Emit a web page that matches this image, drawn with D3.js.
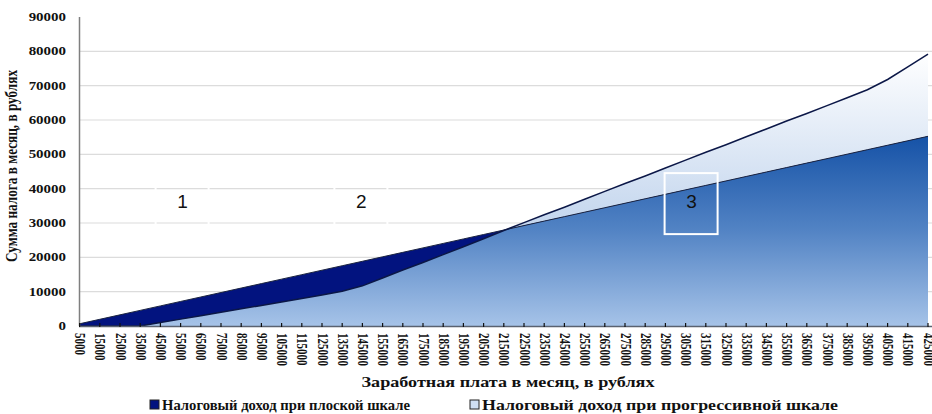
<!DOCTYPE html>
<html><head><meta charset="utf-8">
<script src="https://cdn.jsdelivr.net/npm/d3@7"></script>
<style>html,body{margin:0;padding:0;background:#fff;overflow:hidden}</style>
</head><body>
<svg id="c" width="932" height="414"></svg>
<script>
const categories = [5000,15000,25000,35000,45000,55000,65000,75000,85000,95000,105000,115000,125000,135000,145000,155000,165000,175000,185000,195000,205000,215000,225000,235000,245000,255000,265000,275000,285000,295000,305000,315000,325000,335000,345000,355000,365000,375000,385000,395000,405000,415000,425000];
const flatTax = [650,1950,3250,4550,5850,7150,8450,9750,11050,12350,13650,14950,16250,17550,18850,20150,21450,22750,24050,25350,26650,27950,29250,30550,31850,33150,34450,35750,37050,38350,39650,40950,42250,43550,44850,46150,47450,48750,50050,51350,52650,53950,55250];
const progressiveTax = [0,0,0,0,1000,2000,3000,4000,5000,6000,7000,8000,9000,10100,11700,14000,16300,18500,20800,23100,25400,27800,30100,32400,34600,36900,39200,41500,43700,46000,48300,50600,52800,55100,57400,59700,61900,64200,66500,68800,71800,75500,79200];
const yTicks = [0,10000,20000,30000,40000,50000,60000,70000,80000,90000];
const seriesNames = ["Налоговый  доход  при  плоской  шкале","Налоговый  доход  при  прогрессивной  шкале"];
const xTitle = "Заработная  плата  в  месяц,  в  рублях";
const yTitle = "Сумма налога в месяц, в рублях";
const notes = [{label:"1", cat:55000, val:35500, dx:1},{label:"2", cat:145000, val:35500, dx:-2},{label:"3", cat:305000, val:35500, dx:5}];

const svg = d3.select("#c");
const serif = "'Liberation Serif','Times New Roman',serif";
const x = d3.scalePoint().domain(categories).range([79.6, 928]);
const y = d3.scaleLinear().domain([0, 90000]).range([326, 17]);

const defs = svg.append("defs");
const gMid = defs.append("linearGradient").attr("id","gMid").attr("gradientUnits","userSpaceOnUse")
  .attr("x1",0).attr("x2",0).attr("y1",y(56000)).attr("y2",y(0));
gMid.append("stop").attr("offset",0).attr("stop-color","#1451a6");
gMid.append("stop").attr("offset",0.5).attr("stop-color","#5283c4");
gMid.append("stop").attr("offset",1).attr("stop-color","#a6c3e8");
const gLight = defs.append("linearGradient").attr("id","gLight").attr("gradientUnits","userSpaceOnUse")
  .attr("x1",0).attr("x2",0).attr("y1",y(80000)).attr("y2",y(0));
gLight.append("stop").attr("offset",0).attr("stop-color","#ffffff");
gLight.append("stop").attr("offset",0.55).attr("stop-color","#cbdbf0");
gLight.append("stop").attr("offset",1).attr("stop-color","#a9c4e8");

// gridlines
svg.append("g").selectAll("line").data(yTicks.filter(d => d > 0 && d < 90000)).join("line")
  .attr("x1", 80).attr("x2", 932).attr("y1", d => y(d)).attr("y2", d => y(d))
  .attr("stroke", "#dcdcdc").attr("stroke-width", 1.2);

const idx = categories.map((c,i)=>i);
const areaOf = arr => d3.area().x(i => x(categories[i])).y0(y(0)).y1(i => y(arr[i]));
const lineOf = arr => d3.line().x(i => x(categories[i])).y(i => y(arr[i]));

defs.append("clipPath").attr("id","clipFlat").append("path").attr("d", areaOf(flatTax)(idx));

svg.append("path").attr("d", areaOf(progressiveTax)(idx)).attr("fill","url(#gLight)");
svg.append("path").attr("d", areaOf(flatTax)(idx)).attr("fill","#02137f");
svg.append("path").attr("d", areaOf(progressiveTax)(idx)).attr("fill","url(#gMid)").attr("clip-path","url(#clipFlat)");
svg.append("path").attr("d", lineOf(flatTax)(idx)).attr("fill","none").attr("stroke","#1b2440").attr("stroke-width",1);
svg.append("path").attr("d", lineOf(progressiveTax)(idx)).attr("fill","none").attr("stroke","#0b1747").attr("stroke-width",1.5);

// y axis
svg.append("line").attr("x1",79.5).attr("x2",79.5).attr("y1",y(90000)).attr("y2",y(0)).attr("stroke","#7f7f7f").attr("stroke-width",1.5);
svg.append("g").selectAll("text").data(yTicks).join("text")
  .attr("transform", d => `translate(66,${y(d)+4}) scale(1.3,1)`)
  .attr("text-anchor","end").attr("font-family",serif).attr("font-weight","bold").attr("font-size",11.5)
  .attr("fill","#111").text(d => d);

// x axis
svg.append("line").attr("x1",79).attr("x2",932).attr("y1",326.5).attr("y2",326.5).attr("stroke","#5a6270").attr("stroke-width",1.5);
svg.append("g").selectAll("line").data(categories).join("line")
  .attr("x1", d => x(d)).attr("x2", d => x(d)).attr("y1", 323).attr("y2", 327)
  .attr("stroke","#111").attr("stroke-width",1.2);
svg.append("g").selectAll("text").data(categories).join("text")
  .attr("transform", d => `translate(${x(d)-4.5},333) scale(1.3,1) rotate(90)`)
  .attr("text-anchor","start").attr("font-family",serif).attr("font-weight","bold").attr("font-size",11)
  .attr("fill","#111").text(d => d);

// axis titles
svg.append("text").attr("x",508).attr("y",387)
  .attr("text-anchor","middle").attr("font-family",serif).attr("font-weight","bold").attr("font-size",15)
  .attr("textLength",293).attr("lengthAdjust","spacingAndGlyphs")
  .attr("fill","#111").text(xTitle);
svg.append("text").attr("transform","translate(17,166) scale(1.2,1) rotate(-90)")
  .attr("text-anchor","middle").attr("font-family",serif).attr("font-weight","bold").attr("font-size",14)
  .attr("textLength",192).attr("lengthAdjust","spacingAndGlyphs")
  .attr("fill","#111").text(yTitle);

// annotations
const ng = svg.append("g").selectAll("g").data(notes).join("g");
ng.append("rect").attr("x", d => x(d.cat)+d.dx-26).attr("y", d => y(d.val)-31).attr("width",53).attr("height",61)
  .attr("fill","none").attr("stroke","#fff").attr("stroke-width",2);
ng.append("text").attr("x", d => x(d.cat)+d.dx+1).attr("y", d => y(d.val)+4).attr("text-anchor","middle")
  .attr("font-family","'Liberation Sans',Arial,sans-serif").attr("font-size",19).attr("fill","#111").text(d => d.label);

// legend
const lg = svg.append("g");
const legendItems = [{name:seriesNames[0], fill:"#02137f", x:150, len:248},{name:seriesNames[1], fill:"#cfdff4", x:470, len:356}];
const li = lg.selectAll("g").data(legendItems).join("g");
li.append("rect").attr("x", d => d.x).attr("y", 400).attr("width",9).attr("height",9)
  .attr("fill", d => d.fill).attr("stroke","#222").attr("stroke-width",1);
li.append("text").attr("x", d => d.x+12).attr("y",410)
  .attr("textLength", d => d.len).attr("lengthAdjust","spacingAndGlyphs")
  .attr("font-family",serif).attr("font-weight","bold").attr("font-size",14).attr("fill","#111").text(d => d.name);
</script>
</body></html>
